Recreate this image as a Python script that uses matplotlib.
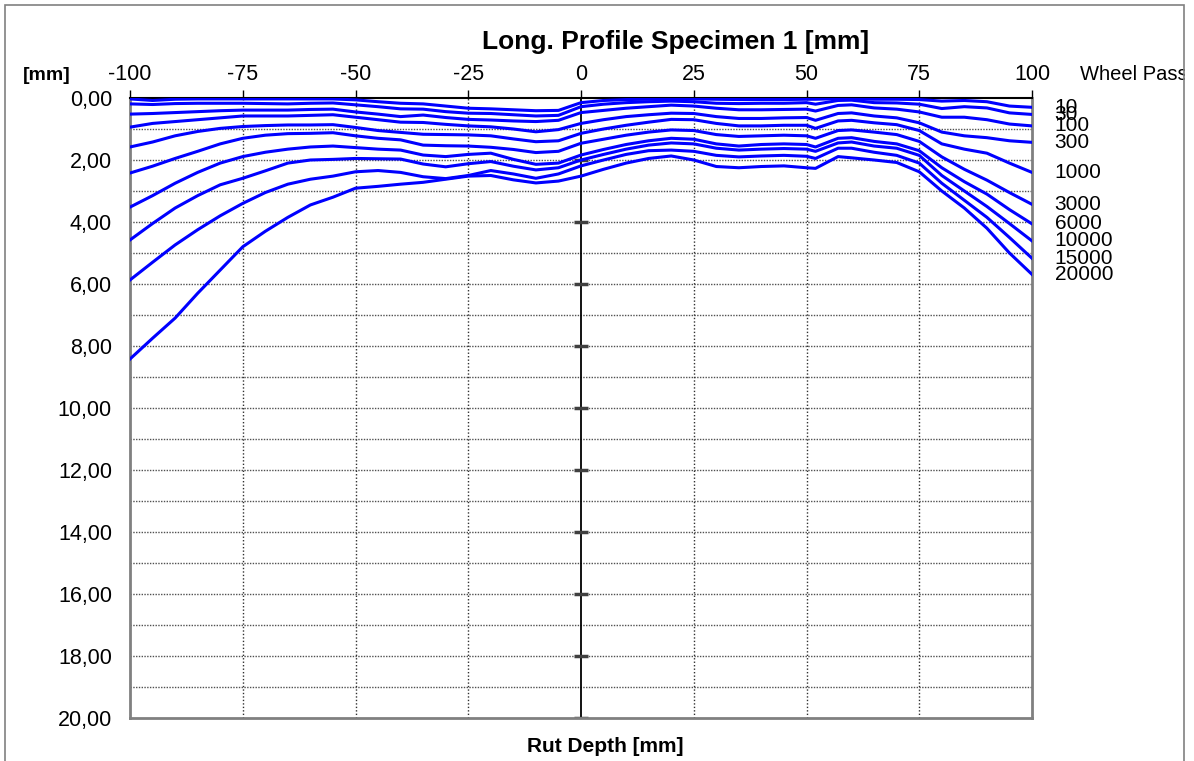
import matplotlib
matplotlib.use("Agg")
import matplotlib.pyplot as plt
from matplotlib.patches import Rectangle

plt.rcParams['font.family'] = ['Liberation Sans', 'DejaVu Sans']
plt.rcParams['axes.unicode_minus'] = False

# Messpositionen entlang des Profils [mm]
pos = [-100, -95, -90, -85, -80, -75, -70, -65, -60, -55, -50, -45, -40, -35,
       -30, -25, -20, -15, -10, -5, 0, 5, 10, 15, 20, 25, 30, 35, 40, 45, 50,
       52, 57, 60, 65, 70, 75, 80, 85, 90, 95, 100]

# Überrollungen (Wheel Passes)
passes = ["10", "30", "100", "300", "1000", "3000", "6000", "10000", "15000", "20000"]

# Spurrinnentiefe je Überrollungsstufe [mm]
p10 = [0.03, 0.08, 0.04, 0.03, 0.03, 0.03, 0.03, 0.03, 0.03, 0.03, 0.06, 0.12, 0.17, 0.19,
       0.26, 0.33, 0.35, 0.38, 0.41, 0.40, 0.15, 0.08, 0.05, 0.04, 0.03, 0.03, 0.04, 0.05,
       0.05, 0.05, 0.04, 0.04, 0.02, 0.02, 0.04, 0.04, 0.05, 0.10, 0.08, 0.12, 0.26, 0.30]
p30 = [0.19, 0.21, 0.18, 0.17, 0.17, 0.17, 0.18, 0.19, 0.17, 0.16, 0.22, 0.28, 0.35, 0.36,
       0.44, 0.49, 0.50, 0.54, 0.58, 0.56, 0.28, 0.20, 0.15, 0.12, 0.10, 0.12, 0.17, 0.18,
       0.17, 0.17, 0.15, 0.20, 0.08, 0.07, 0.15, 0.16, 0.20, 0.34, 0.28, 0.32, 0.48, 0.53]
p100 = [0.52, 0.50, 0.47, 0.44, 0.41, 0.39, 0.39, 0.39, 0.37, 0.36, 0.45, 0.52, 0.60, 0.55,
        0.63, 0.69, 0.71, 0.74, 0.76, 0.72, 0.47, 0.40, 0.33, 0.28, 0.23, 0.26, 0.33, 0.38,
        0.38, 0.37, 0.36, 0.42, 0.24, 0.22, 0.32, 0.36, 0.45, 0.62, 0.62, 0.70, 0.84, 0.90]
p300 = [0.94, 0.82, 0.76, 0.70, 0.64, 0.58, 0.58, 0.58, 0.56, 0.54, 0.62, 0.70, 0.78, 0.79,
        0.85, 0.90, 0.93, 1.00, 1.09, 1.02, 0.82, 0.70, 0.60, 0.54, 0.49, 0.50, 0.60, 0.66,
        0.66, 0.64, 0.63, 0.72, 0.50, 0.48, 0.58, 0.64, 0.80, 1.10, 1.22, 1.28, 1.38, 1.43]
p1000 = [1.58, 1.42, 1.22, 1.08, 0.98, 0.92, 0.89, 0.87, 0.87, 0.86, 0.95, 1.05, 1.11, 1.17,
         1.18, 1.19, 1.22, 1.32, 1.41, 1.38, 1.14, 1.00, 0.88, 0.78, 0.69, 0.70, 0.82, 0.90,
         0.90, 0.88, 0.88, 0.98, 0.74, 0.72, 0.80, 0.86, 1.05, 1.48, 1.65, 1.78, 2.10, 2.40]
p3000 = [2.42, 2.20, 1.95, 1.72, 1.48, 1.30, 1.20, 1.15, 1.14, 1.12, 1.22, 1.30, 1.35, 1.52,
         1.54, 1.55, 1.59, 1.66, 1.76, 1.72, 1.46, 1.33, 1.20, 1.10, 1.03, 1.05, 1.18, 1.24,
         1.22, 1.20, 1.22, 1.30, 1.05, 1.03, 1.10, 1.18, 1.40, 1.90, 2.30, 2.65, 3.05, 3.43]
p6000 = [3.52, 3.15, 2.75, 2.40, 2.10, 1.89, 1.75, 1.65, 1.58, 1.55, 1.60, 1.65, 1.68, 1.84,
         1.89, 1.82, 1.78, 1.98, 2.14, 2.10, 1.84, 1.66, 1.50, 1.38, 1.30, 1.33, 1.48, 1.55,
         1.50, 1.48, 1.50, 1.58, 1.30, 1.28, 1.40, 1.48, 1.70, 2.25, 2.70, 3.10, 3.60, 4.06]
p10000 = [4.58, 4.05, 3.55, 3.15, 2.80, 2.59, 2.35, 2.10, 2.00, 1.98, 1.95, 1.96, 1.97, 2.13,
          2.22, 2.12, 2.05, 2.20, 2.32, 2.25, 2.00, 1.82, 1.65, 1.52, 1.45, 1.48, 1.62, 1.68,
          1.65, 1.63, 1.65, 1.72, 1.45, 1.42, 1.55, 1.62, 1.85, 2.50, 3.00, 3.50, 4.05, 4.61]
p15000 = [5.87, 5.30, 4.74, 4.25, 3.80, 3.40, 3.05, 2.78, 2.62, 2.52, 2.38, 2.34, 2.40, 2.54,
          2.60, 2.50, 2.34, 2.45, 2.59, 2.45, 2.19, 2.00, 1.82, 1.70, 1.68, 1.72, 1.85, 1.90,
          1.87, 1.85, 1.88, 1.95, 1.62, 1.62, 1.75, 1.85, 2.10, 2.75, 3.30, 3.85, 4.50, 5.17]
p20000 = [8.42, 7.75, 7.10, 6.30, 5.55, 4.80, 4.30, 3.85, 3.45, 3.20, 2.91, 2.85, 2.78, 2.72,
          2.62, 2.52, 2.50, 2.64, 2.74, 2.68, 2.52, 2.30, 2.10, 1.95, 1.87, 2.00, 2.21, 2.25,
          2.21, 2.19, 2.25, 2.27, 1.89, 1.93, 2.00, 2.08, 2.38, 3.00, 3.55, 4.20, 5.00, 5.69]

profiles = [p10, p30, p100, p300, p1000, p3000, p6000, p10000, p15000, p20000]

W, H = 1194, 761
fig = plt.figure(figsize=(W / 100, H / 100), dpi=100)
ax = fig.add_axes([130 / W, 1 - 718 / H, 902 / W, 620 / H])

# Gitter (gepunktet)
for y in range(1, 20):
    ax.axhline(y, color="#505050", lw=1.0, ls=(0, (1, 1)), zorder=1)
for x in [-75, -50, -25, 25, 50, 75]:
    ax.axvline(x, color="#303030", lw=1.0, ls=(0, (1, 1.5)), zorder=1)
ax.axvline(0, color="black", lw=1.3, zorder=2)
ax.plot([0] * 10, list(range(2, 21, 2)), ls="none", marker="_", ms=10, mew=2.5,
        color="#404040", zorder=2)

for vals, lab in zip(profiles, passes):
    ax.plot(pos, vals, color="#0000FF", lw=2.2, zorder=3)
    ax.text(105, vals[-1], lab, fontsize=15, va="center", ha="left", clip_on=False)

ax.set_xlim(-100, 100)
ax.set_ylim(20, 0)
ax.xaxis.tick_top()
ax.set_xticks(range(-100, 101, 25))
ax.tick_params(axis="x", direction="out", length=6, width=1, labelsize=15.5, pad=3)
ax.set_yticks(range(0, 21, 2))
ax.set_yticklabels([f"{v:.2f}".replace(".", ",") for v in range(0, 21, 2)])
ax.tick_params(axis="y", length=0, labelsize=15.5, pad=13)

for s in ["left", "right", "bottom"]:
    ax.spines[s].set_color("#808080")
    ax.spines[s].set_linewidth(2)
ax.spines["top"].set_color("black")
ax.spines["top"].set_linewidth(1.5)

fig.text(676 / W, 1 - 42 / H, "Long. Profile Specimen 1 [mm]", fontsize=19,
         fontweight="bold", ha="center", va="center")
fig.text(47 / W, 1 - 75 / H, "[mm]", fontsize=14, fontweight="bold", ha="center", va="center")
fig.text(1080 / W, 1 - 75 / H, "Wheel Pass", fontsize=14.5, ha="left", va="center")
fig.text(605 / W, 1 - 746 / H, "Rut Depth [mm]", fontsize=15, fontweight="bold",
         ha="center", va="center")

# Rahmen um das Diagramm
fig.patches.append(Rectangle((1185 / W, 0), 10 / W, 1, transform=fig.transFigure,
                             facecolor="white", edgecolor="none", zorder=5))
fig.patches.append(Rectangle((5 / W, -0.05), 1179 / W, 1.05 - 5 / H, transform=fig.transFigure,
                             facecolor="none", edgecolor="#808080", lw=1.2, zorder=6))

fig.savefig("out.png", dpi=100)
